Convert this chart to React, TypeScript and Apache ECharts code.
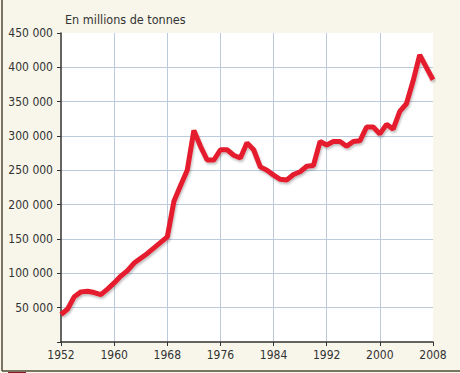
import React, { useEffect, useRef } from "react";
import * as echarts from "echarts";

const years: number[] = [
  1952, 1953, 1954, 1955, 1956, 1957, 1958, 1959, 1960, 1961, 1962, 1963, 1964, 1965,
  1966, 1967, 1968, 1969, 1970, 1971, 1972, 1973, 1974, 1975, 1976, 1977, 1978, 1979,
  1980, 1981, 1982, 1983, 1984, 1985, 1986, 1987, 1988, 1989, 1990, 1991, 1992, 1993,
  1994, 1995, 1996, 1997, 1998, 1999, 2000, 2001, 2002, 2003, 2004, 2005, 2006, 2007, 2008,
];
const values: number[] = [
  40000, 48000, 66000, 73000, 74000, 72000, 69000, 77000, 86000, 96000, 104000, 115000, 122000, 129000,
  137000, 145000, 153000, 205000, 228000, 250000, 308000, 285000, 265000, 265000, 280000, 280000, 272000, 268000,
  290000, 280000, 255000, 250000, 243000, 237000, 236000, 244000, 248000, 256000, 257000, 292000, 287000, 292000,
  292000, 285000, 292000, 293000, 313000, 313000, 303000, 317000, 310000, 336000, 347000, 380000, 418000, 400000, 382000,
];
const yTicks = { min: 0, max: 450000, interval: 50000 };
const xTicks = { min: 1952, max: 2008, interval: 8 };
const unitLabel = "En millions de tonnes";

const FONT = "'Liberation Sans Narrow', 'DejaVu Sans Condensed', sans-serif";

export default function App() {
  const ref = useRef<HTMLDivElement>(null);
  useEffect(() => {
    document.body.style.margin = "0";
    if (!ref.current) return;
    const chart = echarts.init(ref.current, null, { renderer: "svg" });
    const data = years.map((y, i) => [y, values[i]]);
    chart.setOption({
      animation: false,
      backgroundColor: "#f8f6ea",
      grid: {
        left: 61,
        right: 27,
        top: 33,
        bottom: 31,
        show: true,
        backgroundColor: "#ffffff",
        borderWidth: 0,
      },
      xAxis: {
        type: "value",
        min: xTicks.min,
        max: xTicks.max,
        interval: xTicks.interval,
        axisLine: { show: true, onZero: false, lineStyle: { color: "#333", width: 1.5 } },
        axisTick: { show: true, length: 4, lineStyle: { color: "#333" } },
        axisLabel: {
          color: "#333",
          fontFamily: FONT,
          fontSize: 12,
          margin: 7,
          formatter: (v: number) => String(v),
        },
        splitLine: {
          show: true,
          showMinLine: false,
          showMaxLine: false,
          lineStyle: { color: "#bccbdc", width: 1 },
        },
      },
      yAxis: {
        type: "value",
        min: yTicks.min,
        max: yTicks.max,
        interval: yTicks.interval,
        axisLine: { show: true, lineStyle: { color: "#333", width: 1.5 } },
        axisTick: { show: true, length: 4, lineStyle: { color: "#333" } },
        axisLabel: {
          color: "#333",
          fontFamily: FONT,
          fontSize: 12,
          margin: 8,
          formatter: (v: number) =>
            v === 0 ? "" : String(v).replace(/\B(?=(\d{3})+(?!\d))/g, " "),
        },
        splitLine: {
          show: true,
          showMinLine: false,
          showMaxLine: false,
          lineStyle: { color: "#bccbdc", width: 1 },
        },
      },
      graphic: [
        {
          type: "text",
          left: 65,
          top: 13,
          style: { text: unitLabel, fill: "#333", font: `12.5px ${FONT}` },
        },
        {
          type: "line",
          shape: { x1: 2, y1: 0, x2: 2, y2: 371 },
          style: { stroke: "#4f4a32", lineWidth: 1.5 },
        },
        {
          type: "line",
          shape: { x1: 2, y1: 371, x2: 460, y2: 371 },
          style: { stroke: "#4f4a32", lineWidth: 1.5 },
        },
        {
          type: "rect",
          shape: { x: 8, y: 372, width: 18, height: 2 },
          style: { fill: "#8a1a22" },
        },
      ],
      series: [
        {
          type: "line",
          data,
          showSymbol: false,
          symbol: "none",
          lineStyle: {
            color: "#e41e2e",
            width: 5,
            shadowColor: "rgba(0,0,0,0.25)",
            shadowBlur: 2,
            shadowOffsetX: 1,
            shadowOffsetY: 2,
          },
          z: 5,
        },
      ],
    });
    return () => chart.dispose();
  }, []);
  return <div ref={ref} style={{ width: 460, height: 373 }} />;
}
